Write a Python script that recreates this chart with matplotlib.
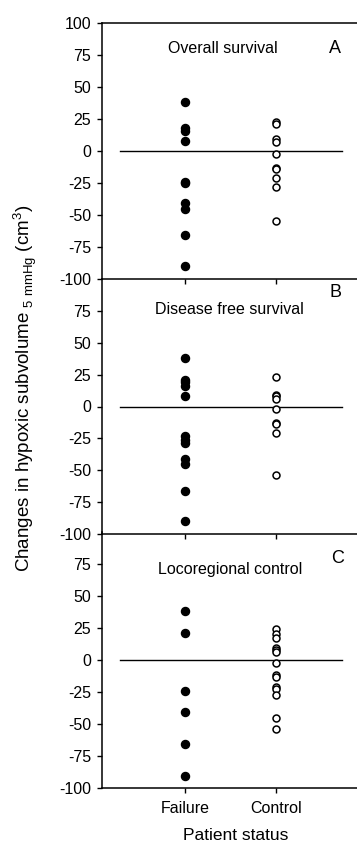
import matplotlib
matplotlib.use("Agg")
import matplotlib.pyplot as plt

plt.rcParams["font.family"] = ["Liberation Sans", "DejaVu Sans"]

GROUPS = ["Failure", "Control"]
PANEL_TITLES = ["Overall survival", "Disease free survival", "Locoregional control"]
PANEL_LETTERS = ["A", "B", "C"]

os_failure = [38, 18, 16, 8, -24, -25, -41, -45, -66, -90]
os_control = [23, 21, 9, 7, -2, -13, -14, -21, -28, -55]
dfs_failure = [38, 21, 19, 16, 8, -23, -26, -29, -41, -45, -66, -90]
dfs_control = [23, 9, 8, 6, -2, -13, -14, -21, -54]
lrc_failure = [38, 21, -24, -41, -66, -91]
lrc_control = [24, 20, 17, 9, 8, 6, -2, -12, -13, -21, -23, -27, -45, -54]

PANELS = [
    (os_failure, os_control),
    (dfs_failure, dfs_control),
    (lrc_failure, lrc_control),
]

W, H = 357, 842
fig = plt.figure(figsize=(W / 100, H / 100), dpi=100)

left = 102 / W
width = (W - 102) / W
panel_px = [(23, 279), (279, 534), (532, 788)]
# title/letter positions in axes fractions
title_pos = [(0.475, 0.902), (0.498, 0.882), (0.502, 0.852)]
letter_pos = [(0.914, 0.902), (0.914, 0.949), (0.925, 0.895)]

for i, ((fail, ctrl), (top, bot)) in enumerate(zip(PANELS, panel_px)):
    ax = fig.add_axes([left, 1 - bot / H, width, (bot - top) / H])
    ax.set_xlim(0.088, 2.89)
    ax.set_ylim(-100, 100)
    ax.plot([1] * len(fail), fail, "o", color="black", ms=5.8, mec="black")
    ax.plot([2] * len(ctrl), ctrl, "o", mfc="white", mec="black", ms=5.0, mew=1.1)
    ax.plot([0.286, 2.725], [0, 0], color="black", lw=1.0, zorder=0)

    ax.spines["right"].set_visible(False)
    if i > 0:
        ax.spines["top"].set_visible(False)
    for side in ["left", "bottom", "top"]:
        ax.spines[side].set_linewidth(1.1)
    ax.patch.set_alpha(0)

    ticks = [100, 75, 50, 25, 0, -25, -50, -75, -100] if i == 0 else [75, 50, 25, 0, -25, -50, -75, -100]
    ax.set_yticks(ticks)
    ax.set_yticklabels([str(t) for t in ticks])
    ax.set_xticks([1, 2])
    if i == 2:
        ax.set_xticklabels(GROUPS)
    else:
        ax.set_xticklabels(["", ""])
    ax.tick_params(axis="both", direction="out", length=3.6, width=1.0, labelsize=11.5, pad=4.3)
    ax.tick_params(axis="x", pad=5.5)

    ax.text(*title_pos[i], PANEL_TITLES[i], transform=ax.transAxes,
            ha="center", va="center", fontsize=11.5)
    ax.text(*letter_pos[i], PANEL_LETTERS[i], transform=ax.transAxes,
            ha="center", va="center", fontsize=13)

fig.text(236 / W, 1 - 835 / H, "Patient status", ha="center", va="center", fontsize=12.5)
fig.text(25 / W, 1 - 388 / H,
         r"Changes in hypoxic subvolume $_{\mathregular{5\ mmHg}}$ (cm$^{\mathregular{3}}$)",
         rotation=90, ha="center", va="center", fontsize=13.5)

fig.savefig("out.png", dpi=100)
